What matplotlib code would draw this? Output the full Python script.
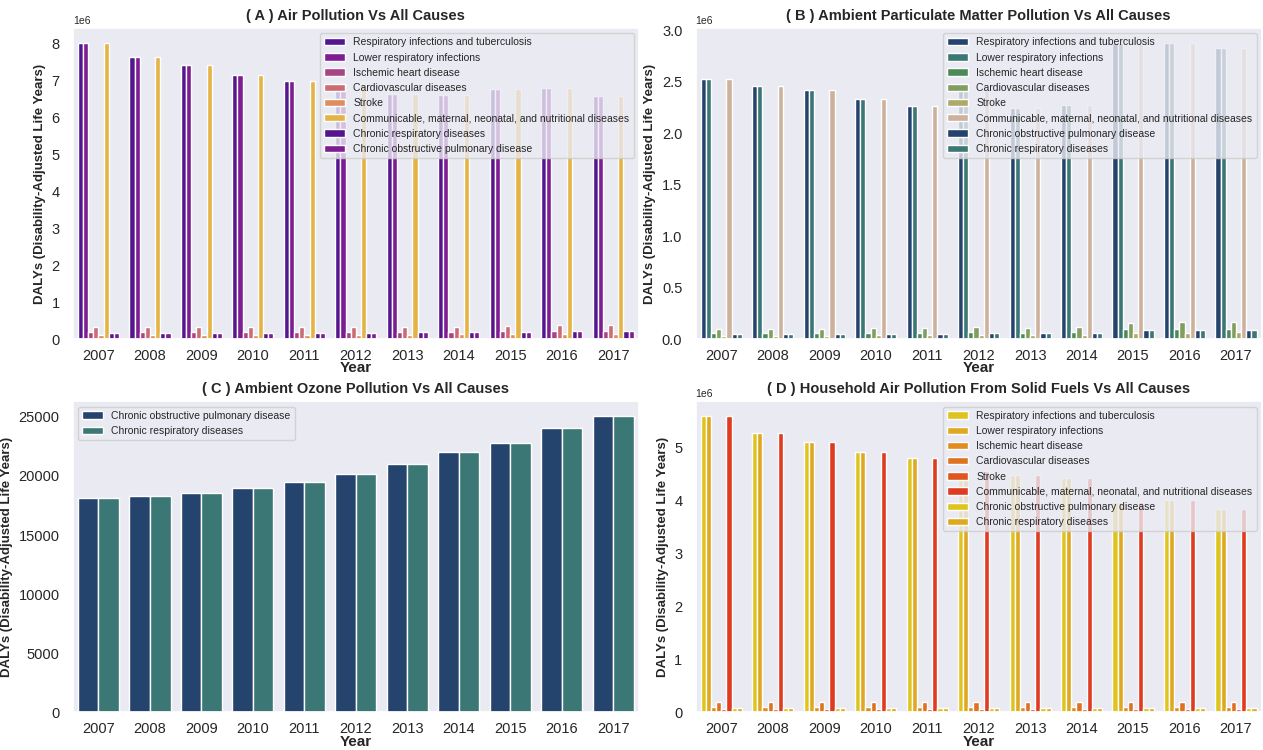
import numpy as np
import pandas as pd
import matplotlib
matplotlib.use('Agg')
import matplotlib.pyplot as plt
import seaborn as sns

sns.set_theme(style='dark')
plt.rcParams['font.family'] = ['Liberation Sans', 'DejaVu Sans']

years = [2007, 2008, 2009, 2010, 2011, 2012, 2013, 2014, 2015, 2016, 2017]

causes_A = ['Respiratory infections and tuberculosis', 'Lower respiratory infections',
            'Ischemic heart disease', 'Cardiovascular diseases', 'Stroke',
            'Communicable, maternal, neonatal, and nutritional diseases',
            'Chronic respiratory diseases', 'Chronic obstructive pulmonary disease']
causes_BD = ['Respiratory infections and tuberculosis', 'Lower respiratory infections',
             'Ischemic heart disease', 'Cardiovascular diseases', 'Stroke',
             'Communicable, maternal, neonatal, and nutritional diseases',
             'Chronic obstructive pulmonary disease', 'Chronic respiratory diseases']
causes_C = ['Chronic obstructive pulmonary disease', 'Chronic respiratory diseases']

# (A) air pollution, millions of DALYs
resp_A = [8.02, 7.63, 7.43, 7.15, 6.98, 6.90, 6.64, 6.62, 6.78, 6.79, 6.57]
ihd_A = [0.18, 0.18, 0.18, 0.18, 0.18, 0.185, 0.19, 0.205, 0.21, 0.22, 0.225]
cvd_A = [0.315, 0.315, 0.315, 0.315, 0.315, 0.32, 0.325, 0.335, 0.365, 0.375, 0.38]
stroke_A = [0.115, 0.115, 0.115, 0.115, 0.115, 0.12, 0.12, 0.13, 0.14, 0.145, 0.15]
copd_A = [0.17, 0.17, 0.17, 0.17, 0.17, 0.175, 0.18, 0.195, 0.2, 0.21, 0.22]

# (B) ambient particulate matter, millions of DALYs
resp_B = [2.53, 2.46, 2.42, 2.33, 2.27, 2.42, 2.25, 2.28, 2.88, 2.88, 2.83]
ihd_B = [0.058, 0.058, 0.058, 0.06, 0.06, 0.068, 0.062, 0.068, 0.094, 0.094, 0.10]
cvd_B = [0.10, 0.10, 0.10, 0.105, 0.105, 0.116, 0.11, 0.12, 0.16, 0.165, 0.17]
stroke_B = [0.035, 0.035, 0.035, 0.037, 0.037, 0.042, 0.038, 0.042, 0.058, 0.058, 0.065]
copd_B = [0.05, 0.05, 0.05, 0.052, 0.052, 0.064, 0.06, 0.064, 0.087, 0.087, 0.09]

# (C) ambient ozone, DALYs
copd_C = [18160, 18280, 18560, 18980, 19490, 20140, 21020, 22010, 22740, 24070, 25050]

# (D) household solid fuels, millions of DALYs
resp_D = [5.59, 5.28, 5.10, 4.91, 4.80, 4.55, 4.48, 4.42, 3.97, 4.00, 3.83]
ihd_D = [0.101, 0.101, 0.100, 0.100, 0.100, 0.099, 0.099, 0.099, 0.098, 0.098, 0.098]
cvd_D = [0.20, 0.20, 0.20, 0.198, 0.198, 0.197, 0.197, 0.197, 0.196, 0.196, 0.196]
stroke_D = [0.063, 0.063, 0.062, 0.062, 0.062, 0.061, 0.061, 0.061, 0.060, 0.060, 0.060]
copd_D = [0.088, 0.088, 0.088, 0.087, 0.087, 0.087, 0.086, 0.086, 0.086, 0.086, 0.086]


def long_frame(causes, series, scale=1.0):
    rows = []
    for cause, vals in zip(causes, series):
        for yr, v in zip(years, vals):
            rows.append({'Year': yr, 'DALYs': v * scale, 'Cause': cause})
    return pd.DataFrame(rows)


def cycled(name, n_levels):
    base = sns.color_palette(name)
    return [base[i % len(base)] for i in range(n_levels)]


df_A = long_frame(causes_A, [resp_A, resp_A, ihd_A, cvd_A, stroke_A, resp_A, copd_A, copd_A], 1e6)
df_B = long_frame(causes_BD, [resp_B, resp_B, ihd_B, cvd_B, stroke_B, resp_B, copd_B, copd_B], 1e6)
df_C = long_frame(causes_C, [copd_C, copd_C])
df_D = long_frame(causes_BD, [resp_D, resp_D, ihd_D, cvd_D, stroke_D, resp_D, copd_D, copd_D], 1e6)

panels = [
    (df_A, 'plasma', '( A ) Air Pollution Vs All Causes', 'upper right'),
    (df_B, 'gist_earth', '( B ) Ambient Particulate Matter Pollution Vs All Causes', 'upper right'),
    (df_C, 'gist_earth', '( C ) Ambient Ozone Pollution Vs All Causes', 'upper left'),
    (df_D, 'autumn_r', '( D ) Household Air Pollution From Solid Fuels Vs All Causes', 'upper right'),
]

fig, axes = plt.subplots(2, 2, figsize=(12.63, 7.5), dpi=100)
plt.subplots_adjust(left=0.0576, right=0.999, bottom=0.05, top=0.9627, wspace=0.1, hspace=0.2)

for ax, (df, pal, title, loc) in zip(axes.flat, panels):
    n = df['Cause'].nunique()
    sns.barplot(data=df, x='Year', y='DALYs', hue='Cause', palette=cycled(pal, n), ax=ax)
    ax.set_title(title, fontsize=10.5, fontweight='bold')
    ax.set_xlabel('Year', fontsize=11, fontweight='bold', labelpad=-1)
    ax.set_ylabel('DALYs (Disability-Adjusted Life Years)', fontsize=9.5, fontweight='bold')
    ax.tick_params(axis='x', labelsize=10.5, pad=1)
    ax.tick_params(axis='y', labelsize=10.5)
    ax.yaxis.get_offset_text().set_fontsize(7.5)
    ax.legend(loc=loc, fontsize=7.5, title=None)

plt.savefig('out.png', dpi=100)
